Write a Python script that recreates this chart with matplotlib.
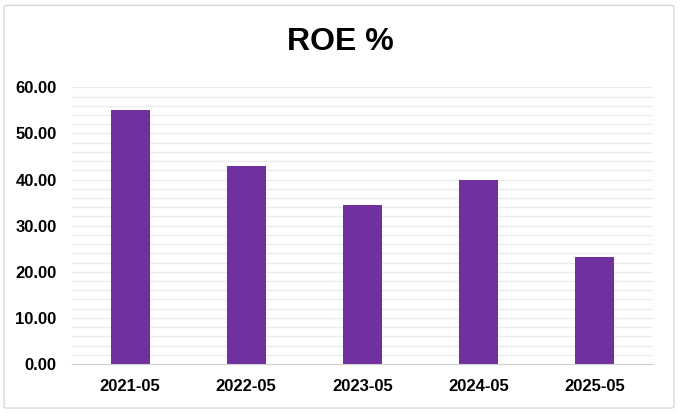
import matplotlib
matplotlib.use("Agg")
from matplotlib import pyplot as plt
from matplotlib.patches import FancyBboxPatch
import numpy as np

# data
periods = ["2021-05", "2022-05", "2023-05", "2024-05", "2025-05"]
roe = [55.0, 43.0, 34.5, 40.0, 23.2]

plt.rcParams['font.family'] = ['Liberation Sans', 'DejaVu Sans']

fig = plt.figure(figsize=(6.8, 4.13), dpi=100)
ax = fig.add_axes([0.1059, 0.1186, 0.854, 0.670])

# outer chart border
border = FancyBboxPatch((0.006, 0.012), 0.985, 0.975, boxstyle="round,pad=0,rounding_size=0.004",
                        transform=fig.transFigure, fill=False, edgecolor="#d9d9d9", linewidth=1.0)
fig.patches.append(border)

x = np.arange(len(periods))
ax.bar(x, roe, width=0.336, color="#7030A0", zorder=3)

ax.set_xlim(-0.5, len(periods) - 0.5)
ax.set_ylim(0, 60)
ax.set_yticks(np.arange(0, 61, 10))
ax.set_yticklabels([f"{v:.2f}" for v in np.arange(0, 61, 10)])
ax.set_yticks(np.arange(0, 61, 2), minor=True)
ax.set_xticks(x)
ax.set_xticklabels(periods)

ax.grid(axis="y", which="both", color="#ececec", linewidth=1.0, zorder=0)
ax.tick_params(axis="both", which="both", length=0)
ax.tick_params(axis="y", pad=11)
ax.tick_params(axis="x", pad=11)
for lbl in ax.get_xticklabels() + ax.get_yticklabels():
    lbl.set_fontsize(12)
    lbl.set_fontweight("bold")

for side in ["top", "right", "left"]:
    ax.spines[side].set_visible(False)
ax.spines["bottom"].set_color("#d0d0d0")
ax.spines["bottom"].set_zorder(4)

fig.text(0.5, 0.898, "ROE %", ha="center", va="center", fontsize=23, fontweight="bold")

fig.savefig("out.png", dpi=100)
